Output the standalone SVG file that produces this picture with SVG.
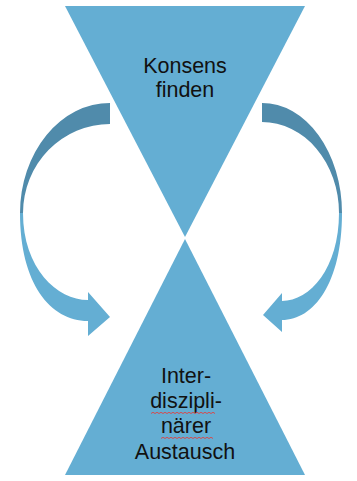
<svg xmlns="http://www.w3.org/2000/svg" width="357" height="481" viewBox="0 0 357 481">
<style>
.tri{fill:#64AED3}
.dark{fill:#508BAB}
.light{fill:#64AED3}
.lbl{font-family:"Liberation Sans",Arial,sans-serif;font-size:21.5px;fill:#111;text-anchor:middle}
.sq{fill:none;stroke:#E04040;stroke-width:0.9}
</style>
<rect width="357" height="481" fill="#fff"/>
<g id="connectors">
  <g id="arrow-left">
    <path class="dark" d="M110 103 A90 110 0 0 0 20 213 L23 213 A87 89 0 0 1 110 124 Z"/>
    <path class="light" d="M20 213 C20 283 50 321 88 321 L88 336 L110 317 L88 292 L88 300 C57 300 23 268 23 213 Z"/>
  </g>
  <g id="arrow-right">
    <path class="dark" d="M262 103 A80 110 0 0 1 342 213 L339 213 A77 91 0 0 0 262 122 Z"/>
    <path class="light" d="M342 213 C342 283 314 320 282 320 L282 332 L263 315 L282 293 L282 301 C310 301 339 268 339 213 Z"/>
  </g>
</g>
<g id="node-konsens">
  <polygon class="tri" points="65,6 305,6 185,237"/>
  <text class="lbl" x="185" y="73">Konsens</text>
  <text class="lbl" x="185" y="97">finden</text>
</g>
<g id="node-austausch">
  <polygon class="tri" points="185,239 305,475 65,475"/>
  <text class="lbl" x="186" y="383">Inter-</text>
  <text class="lbl" x="186" y="408">diszipli-</text>
  <text class="lbl" x="186" y="433">närer</text>
  <text class="lbl" x="185" y="459">Austausch</text>
  <path class="sq" d="M151 413.5 l2 -1.2 l2 1.2 l2 -1.2 l2 1.2 l2 -1.2 l2 1.2 l2 -1.2 l2 1.2 l2 -1.2 l2 1.2 l2 -1.2 l2 1.2 l2 -1.2 l2 1.2 l2 -1.2 l2 1.2 l2 -1.2 l2 1.2 l2 -1.2 l2 1.2 l2 -1.2 l2 1.2 l2 -1.2 l2 1.2 l2 -1.2 l2 1.2 l2 -1.2 l2 1.2 l2 -1.2 l2 1.2 l2 -1.2 l2 1.2"/>
  <path class="sq" d="M161 438.5 l2 -1.2 l2 1.2 l2 -1.2 l2 1.2 l2 -1.2 l2 1.2 l2 -1.2 l2 1.2 l2 -1.2 l2 1.2 l2 -1.2 l2 1.2 l2 -1.2 l2 1.2 l2 -1.2 l2 1.2 l2 -1.2 l2 1.2 l2 -1.2 l2 1.2 l2 -1.2 l2 1.2 l2 -1.2 l2 1.2 l2 -1.2 l2 1.2"/>
</g>
</svg>
